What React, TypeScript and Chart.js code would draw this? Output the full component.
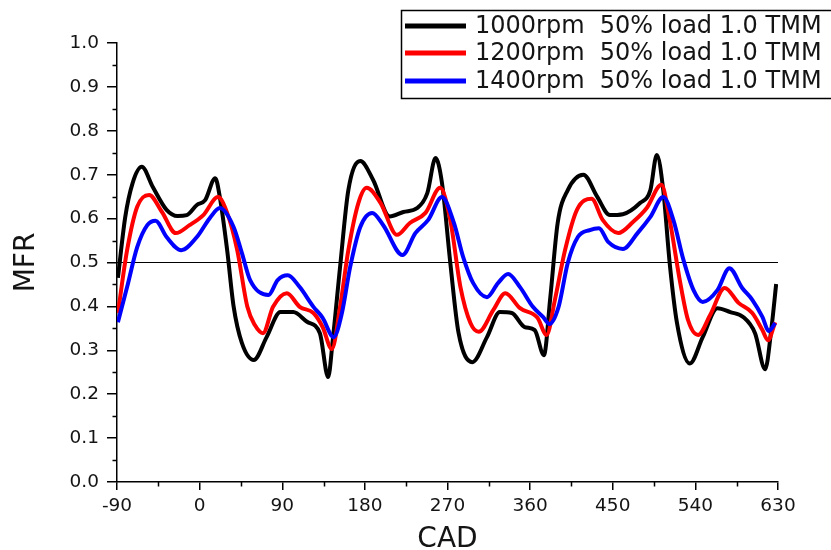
import React, { useEffect, useRef } from "react";
import { Chart, registerables } from "chart.js";

Chart.register(...registerables);

const seriesLabels = [
  "1000rpm  50% load 1.0 TMM",
  "1200rpm  50% load 1.0 TMM",
  "1400rpm  50% load 1.0 TMM",
];
const seriesColors = ["#000000", "#ff0000", "#0000ff"];

const cad1000 = [-89, -81, -73, -63, -51, -36, -24, -14, -3, 6, 17, 22, 30, 37, 46, 59, 73, 88, 102, 117, 131, 140, 145, 153, 162, 175, 189, 207, 222, 237, 248, 257, 264, 273, 282, 297, 313, 327, 340, 354, 365, 375, 382, 390, 401, 418, 433, 447, 461, 480, 491, 498, 505, 512, 520, 534, 548, 564, 578, 592, 605, 616, 623, 628];
const mfr1000 = [0.465, 0.604, 0.681, 0.718, 0.672, 0.62, 0.606, 0.608, 0.631, 0.642, 0.692, 0.649, 0.528, 0.40, 0.317, 0.278, 0.33, 0.387, 0.387, 0.365, 0.339, 0.239, 0.323, 0.49, 0.665, 0.731, 0.688, 0.605, 0.615, 0.624, 0.658, 0.738, 0.681, 0.50, 0.34, 0.273, 0.33, 0.387, 0.385, 0.353, 0.346, 0.289, 0.421, 0.59, 0.665, 0.70, 0.65, 0.608, 0.61, 0.636, 0.665, 0.745, 0.665, 0.499, 0.362, 0.27, 0.33, 0.396, 0.387, 0.376, 0.339, 0.257, 0.353, 0.451];

const cad1200 = [-89, -79, -68, -55, -41, -26, -11, 4, 20, 30, 41, 52, 60, 69, 80, 95, 109, 124, 134, 144, 153, 162, 173, 182, 197, 215, 229, 246, 262, 273, 284, 295, 304, 320, 333, 349, 368, 378, 387, 398, 411, 427, 439, 456, 472, 487, 503, 512, 523, 532, 543, 556, 572, 587, 602, 613, 619, 627];
const mfr1200 = [0.385, 0.528, 0.627, 0.654, 0.615, 0.567, 0.585, 0.608, 0.649, 0.613, 0.528, 0.399, 0.358, 0.339, 0.399, 0.43, 0.399, 0.385, 0.353, 0.303, 0.399, 0.528, 0.636, 0.67, 0.636, 0.563, 0.59, 0.613, 0.67, 0.597, 0.445, 0.362, 0.342, 0.392, 0.43, 0.396, 0.374, 0.335, 0.415, 0.528, 0.62, 0.645, 0.597, 0.567, 0.592, 0.624, 0.677, 0.597, 0.46, 0.369, 0.335, 0.38, 0.442, 0.408, 0.385, 0.346, 0.323, 0.364];

const cad1400 = [-89, -79, -68, -57, -48, -36, -20, -3, 11, 22, 37, 46, 55, 75, 85, 96, 109, 124, 134, 146, 155, 164, 175, 188, 200, 221, 235, 249, 264, 277, 287, 298, 313, 325, 336, 349, 363, 374, 381, 391, 401, 412, 425, 435, 445, 461, 477, 491, 505, 516, 527, 538, 548, 564, 577, 591, 602, 613, 620, 627];
const mfr1400 = [0.364, 0.444, 0.535, 0.585, 0.595, 0.558, 0.528, 0.558, 0.601, 0.624, 0.581, 0.522, 0.46, 0.426, 0.46, 0.471, 0.444, 0.399, 0.374, 0.33, 0.385, 0.49, 0.581, 0.613, 0.585, 0.517, 0.567, 0.597, 0.649, 0.59, 0.513, 0.453, 0.421, 0.453, 0.474, 0.444, 0.399, 0.376, 0.36, 0.399, 0.499, 0.558, 0.574, 0.578, 0.547, 0.531, 0.567, 0.604, 0.649, 0.597, 0.506, 0.437, 0.41, 0.437, 0.487, 0.442, 0.415, 0.376, 0.344, 0.362];

const refLineCad = [-90, 630];
const refLineMfr = [0.5, 0.5];

const xTicks = [-90, 0, 90, 180, 270, 360, 450, 540, 630];
const yTicks = [0, 0.1, 0.2, 0.3, 0.4, 0.5, 0.6, 0.7, 0.8, 0.9, 1.0];
const xMinorTicks = [-45, 45, 135, 225, 315, 405, 495, 585];
const yMinorTicks = [0.05, 0.15, 0.25, 0.35, 0.45, 0.55, 0.65, 0.75, 0.85, 0.95];

const FONT = "'DejaVu Sans', 'Liberation Sans', Arial, sans-serif";
const TEXT = "#141414";

const pts = (xs: number[], ys: number[]) => xs.map((x, i) => ({ x, y: ys[i] }));

const minorTicksPlugin = {
  id: "minorTicks",
  afterDraw(chart: any) {
    const { ctx } = chart;
    const x = chart.scales.x;
    const y = chart.scales.y;
    ctx.save();
    ctx.strokeStyle = "#000";
    ctx.lineWidth = 1.5;
    ctx.beginPath();
    xMinorTicks.forEach((v) => {
      const px = Math.round(x.getPixelForValue(v)) + 0.5;
      ctx.moveTo(px, x.top);
      ctx.lineTo(px, x.top + 4.5);
    });
    yMinorTicks.forEach((v) => {
      const py = Math.round(y.getPixelForValue(v)) + 0.5;
      ctx.moveTo(y.right - 4.5, py);
      ctx.lineTo(y.right, py);
    });
    ctx.stroke();
    ctx.restore();
  },
};

const legendPlugin = {
  id: "boxLegend",
  afterDraw(chart: any) {
    const { ctx } = chart;
    const boxX = 401;
    const boxY = 10;
    const rowYs = [26, 53, 81];
    ctx.save();
    ctx.fillStyle = "#ffffff";
    ctx.fillRect(boxX, boxY, 440, 88);
    ctx.strokeStyle = "#000";
    ctx.lineWidth = 1.5;
    ctx.strokeRect(boxX + 0.5, boxY + 0.5, 440, 88);
    ctx.font = `24px ${FONT}`;
    ctx.textBaseline = "middle";
    ctx.textAlign = "left";
    chart.data.datasets.slice(0, 3).forEach((ds: any, i: number) => {
      const yy = rowYs[i];
      ctx.strokeStyle = ds.borderColor;
      ctx.lineWidth = 5;
      ctx.beginPath();
      ctx.moveTo(405, yy);
      ctx.lineTo(466, yy);
      ctx.stroke();
      ctx.fillStyle = TEXT;
      ctx.fillText(ds.label, 475, yy + 1);
    });
    ctx.restore();
  },
};

export default function App() {
  const canvasRef = useRef<HTMLCanvasElement | null>(null);

  useEffect(() => {
    const canvas = canvasRef.current;
    if (!canvas) return;
    const lineDs = (i: number, xs: number[], ys: number[], order: number) => ({
      label: seriesLabels[i],
      data: pts(xs, ys),
      borderColor: seriesColors[i],
      backgroundColor: seriesColors[i],
      borderWidth: 4,
      pointRadius: 0,
      fill: false,
      cubicInterpolationMode: "monotone" as const,
      order,
    });
    const chart = new Chart(canvas, {
      type: "line",
      data: {
        datasets: [
          lineDs(0, cad1000, mfr1000, 3),
          lineDs(1, cad1200, mfr1200, 2),
          lineDs(2, cad1400, mfr1400, 1),
          {
            label: "ref",
            data: pts(refLineCad, refLineMfr),
            borderColor: "#000",
            borderWidth: 1.2,
            pointRadius: 0,
            fill: false,
            order: 10,
          } as any,
        ],
      },
      options: {
        responsive: false,
        animation: false,
        devicePixelRatio: 1,
        layout: { padding: { top: 43, right: 53, left: 0, bottom: 0 } },
        plugins: {
          legend: { display: false },
          tooltip: { enabled: false },
        },
        elements: { point: { radius: 0 } },
        scales: {
          x: {
            type: "linear",
            min: -90,
            max: 630,
            afterBuildTicks: (s: any) => {
              s.ticks = xTicks.map((v) => ({ value: v }));
            },
            ticks: {
              font: { family: FONT, size: 18.5 },
              color: TEXT,
              padding: 5,
              maxRotation: 0,
              autoSkip: false,
              callback: (v: any) => String(v),
            },
            grid: {
              drawOnChartArea: false,
              drawTicks: true,
              tickLength: 8,
              color: "#000",
              lineWidth: 1.5,
            },
            border: { color: "#000", width: 1.5 },
            title: {
              display: true,
              text: "CAD",
              color: TEXT,
              font: { family: FONT, size: 28, lineHeight: 0.7 },
              padding: 0,
            },
            afterFit: (s: any) => {
              s.height = 68;
            },
          },
          y: {
            type: "linear",
            min: 0,
            max: 1,
            afterBuildTicks: (s: any) => {
              s.ticks = yTicks.map((v) => ({ value: v }));
            },
            ticks: {
              font: { family: FONT, size: 18.5 },
              color: TEXT,
              padding: 8,
              callback: (v: any) => Number(v).toFixed(1),
            },
            grid: {
              drawOnChartArea: false,
              drawTicks: true,
              tickLength: 10,
              color: "#000",
              lineWidth: 1.5,
            },
            border: { color: "#000", width: 1.5 },
            title: {
              display: true,
              text: "MFR",
              color: TEXT,
              font: { family: FONT, size: 28 },
              padding: { top: 10, bottom: 0 },
            },
            afterFit: (s: any) => {
              s.width = 117;
            },
          },
        },
      },
      plugins: [minorTicksPlugin, legendPlugin],
    } as any);
    return () => chart.destroy();
  }, []);

  return (
    <div style={{ position: "absolute", left: 0, top: 0, width: 831, height: 550, background: "#fff" }}>
      <canvas ref={canvasRef} width={831} height={550} style={{ display: "block", width: 831, height: 550 }} />
    </div>
  );
}
